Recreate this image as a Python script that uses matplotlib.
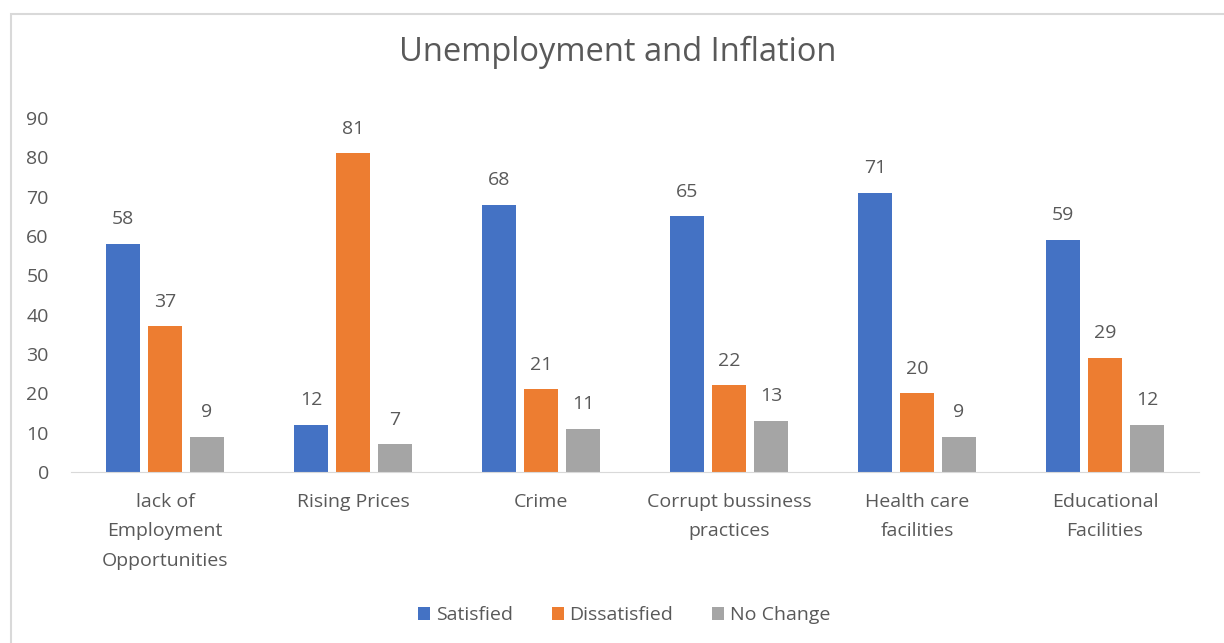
import numpy as np
import matplotlib.pyplot as plt
from matplotlib.patches import Rectangle

categories = ['lack of\nEmployment\nOpportunities', 'Rising Prices', 'Crime',
              'Corrupt bussiness\npractices', 'Health care\nfacilities', 'Educational\nFacilities']
series = ['Satisfied', 'Dissatisfied', 'No Change']
satisfied = [58, 12, 68, 65, 71, 59]
dissatisfied = [37, 81, 21, 22, 20, 29]
no_change = [9, 7, 11, 13, 9, 12]
colors = ['#4472c4', '#ed7d31', '#a5a5a5']

plt.rcParams['font.family'] = ['Open Sans', 'DejaVu Sans']
txt = '#595959'
fs = 14

fig = plt.figure(figsize=(12.24, 6.43), dpi=100)
fig.patches.append(Rectangle((11/1224, -0.2), 1.5, (643-14)/643 + 0.2, transform=fig.transFigure,
                             fill=False, edgecolor='#d9d9d9', linewidth=1.5))
ax = fig.add_axes([71/1224, 0.266, 1128/1224, 0.5505])

x = np.arange(len(categories))
w = 0.18
off = 0.223
for i, vals in enumerate([satisfied, dissatisfied, no_change]):
    bars = ax.bar(x + (i - 1) * off, vals, w, color=colors[i], label=series[i])
    for b, v in zip(bars, vals):
        ax.text(b.get_x() + b.get_width() / 2, v + 4.0, str(v), ha='center', va='bottom',
                fontsize=fs, color=txt)

ax.set_xlim(-0.5, len(categories) - 0.5)
ax.set_ylim(0, 90)
ax.set_yticks(range(0, 91, 10))
ax.set_xticks(x)
ax.set_xticklabels(categories, fontsize=fs, color=txt, linespacing=1.82)
ax.tick_params(axis='y', labelsize=fs, labelcolor=txt, length=0, pad=16)
ax.tick_params(axis='x', length=0, pad=15)
for s in ['top', 'right', 'left']:
    ax.spines[s].set_visible(False)
ax.spines['bottom'].set_color('#d9d9d9')

fig.text(0.505, 0.918, 'Unemployment and Inflation', ha='center', va='center', fontsize=23.5, color=txt)
fig.legend(loc='center', bbox_to_anchor=(0.510, 0.043), ncol=3, frameon=False, fontsize=fs,
           handlelength=0.6, handleheight=0.6, handletextpad=0.3, columnspacing=2.0,
           labelcolor=txt)

fig.savefig('out.png', dpi=100)
